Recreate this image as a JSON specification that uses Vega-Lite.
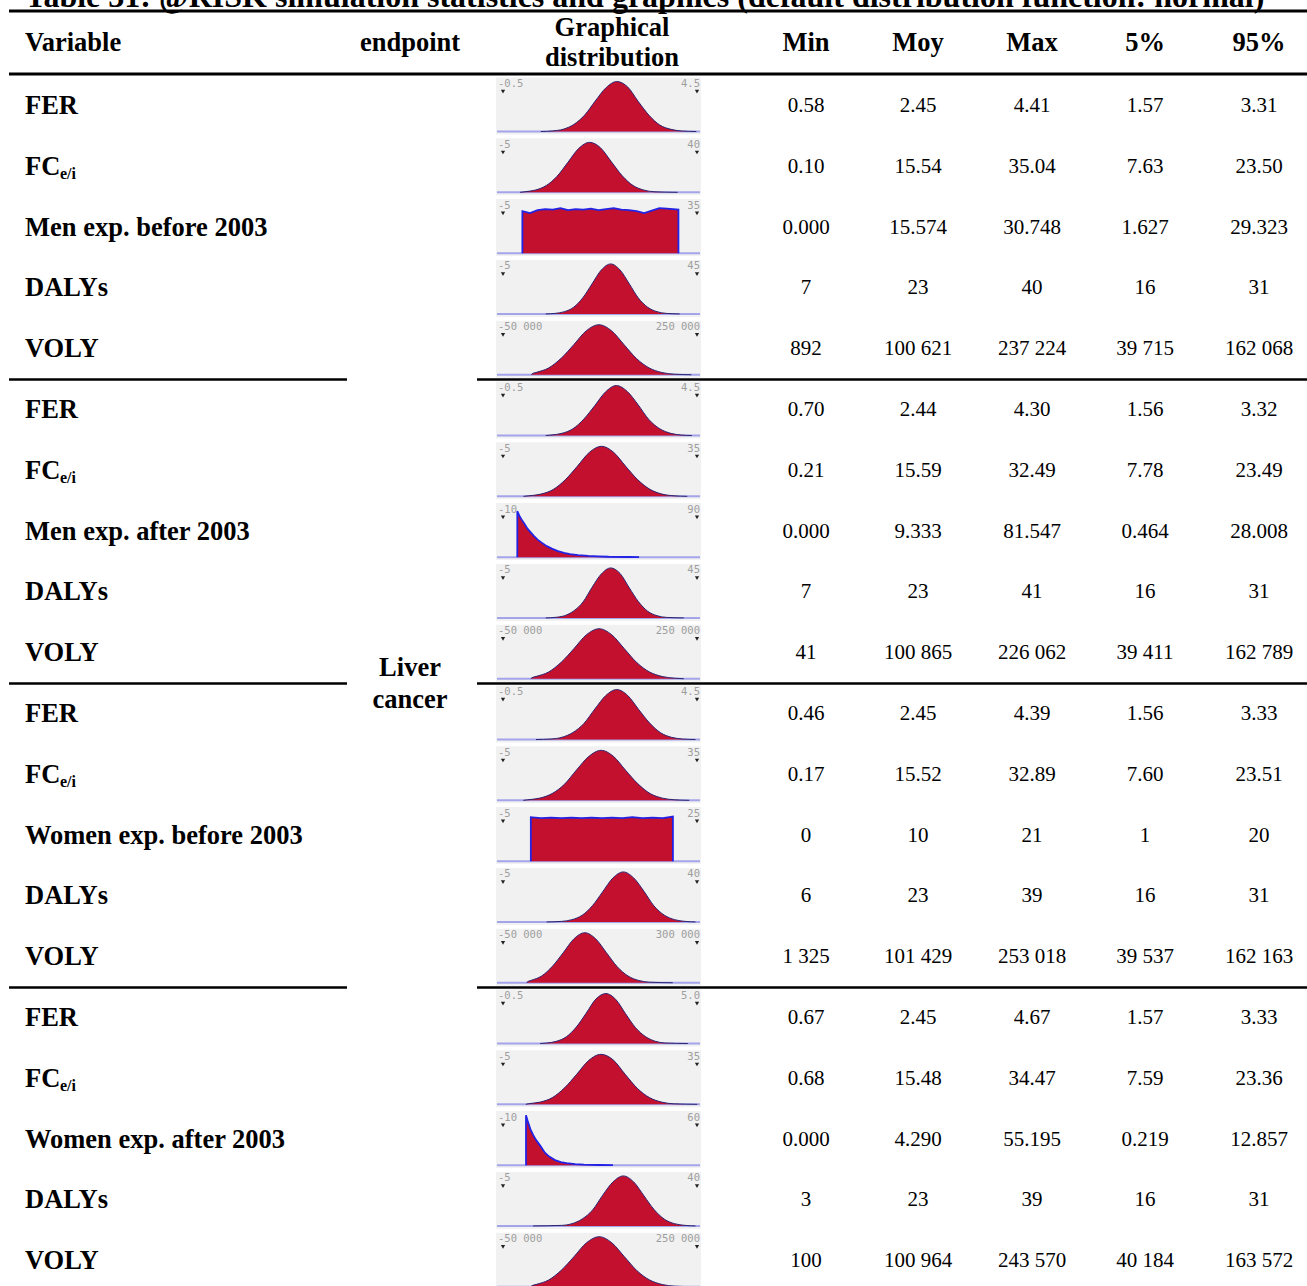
{
"$schema":"https://vega.github.io/schema/vega-lite/v6.json",
"width":1307,"height":1286,"autosize":{"type":"none"},"padding":0,"background":"#ffffff",
"config":{"view":{"stroke":null}},
"datasets":{"rows":[
{"r":1,"v":"FER","sub":"","mn":"0.58","moy":"2.45","mx":"4.41","p5":"1.57","p95":"3.31","lo":-0.5,"hi":4.5,"loL":"-0.5","hiL":"4.5","kind":"normal","xs":[0.58,0.86,1.13,1.39,1.66,1.92,2.19,2.45,2.72,2.98,3.25,3.51,3.78,4.04,4.41],"hs":[0,0.012,0.046,0.14,0.33,0.61,0.88,1.0,0.89,0.6,0.32,0.13,0.045,0.012,0]},
{"r":2,"v":"FC","sub":"e/i","mn":"0.10","moy":"15.54","mx":"35.04","p5":"7.63","p95":"23.50","lo":-5,"hi":40,"loL":"-5","hiL":"40","kind":"normal","xs":[0.10,1.08,3.49,5.90,8.31,10.72,13.13,15.54,17.95,20.36,22.77,25.18,27.59,30.0,35.04],"hs":[0,0.011,0.045,0.135,0.32,0.6,0.88,1.0,0.89,0.61,0.33,0.135,0.044,0.011,0]},
{"r":3,"v":"Men exp. before 2003","sub":"","mn":"0.000","moy":"15.574","mx":"30.748","p5":"1.627","p95":"29.323","lo":-5,"hi":35,"loL":"-5","hiL":"35","kind":"uniform","xs":[0,0,1.5,3,4.5,6,7.5,9,10.5,12,13.5,15,16.5,18,19.5,21,22.5,24,25.5,27,28.5,30.75,30.75],"hs":[0,0.84,0.8,0.86,0.88,0.87,0.9,0.86,0.88,0.87,0.89,0.86,0.88,0.9,0.87,0.86,0.84,0.8,0.85,0.9,0.89,0.87,0]},
{"r":4,"v":"DALYs","sub":"","mn":"7","moy":"23","mx":"40","p5":"16","p95":"31","lo":-5,"hi":45,"loL":"-5","hiL":"45","kind":"normal","xs":[7,9.3,11.6,13.9,16.2,18.4,20.7,23,25.3,27.6,29.8,32.1,34.4,36.7,40],"hs":[0,0.011,0.045,0.135,0.33,0.6,0.88,1.0,0.88,0.6,0.32,0.135,0.045,0.011,0]},
{"r":5,"v":"VOLY","sub":"","mn":"892","moy":"100 621","mx":"237 224","p5":"39 715","p95":"162 068","lo":-50000,"hi":250000,"loL":"-50 000","hiL":"250 000","kind":"normal","xs":[892,2000,7646,26241,44836,63431,82026,100621,119216,137811,156406,175001,193596,212191,237224],"hs":[0,0.02,0.045,0.135,0.33,0.6,0.88,1.0,0.88,0.6,0.32,0.135,0.045,0.011,0]},
{"r":6,"v":"FER","sub":"","mn":"0.70","moy":"2.44","mx":"4.30","p5":"1.56","p95":"3.32","lo":-0.5,"hi":4.5,"loL":"-0.5","hiL":"4.5","kind":"normal","xs":[0.70,0.83,1.10,1.37,1.64,1.91,2.17,2.44,2.71,2.98,3.24,3.51,3.78,4.05,4.30],"hs":[0,0.01,0.044,0.135,0.33,0.6,0.87,1.0,0.88,0.61,0.32,0.135,0.044,0.01,0]},
{"r":7,"v":"FC","sub":"e/i","mn":"0.21","moy":"15.59","mx":"32.49","p5":"7.78","p95":"23.49","lo":-5,"hi":35,"loL":"-5","hiL":"35","kind":"normal","xs":[0.21,1.28,3.67,6.05,8.44,10.82,13.21,15.59,17.98,20.36,22.75,25.13,27.52,29.9,32.49],"hs":[0,0.011,0.045,0.135,0.33,0.6,0.88,1.0,0.88,0.6,0.33,0.14,0.045,0.011,0]},
{"r":8,"v":"Men exp. after 2003","sub":"","mn":"0.000","moy":"9.333","mx":"81.547","p5":"0.464","p95":"28.008","lo":-10,"hi":90,"loL":"-10","hiL":"90","kind":"expo","xs":[0,0,1,2,3.5,5,6.5,8,10,12,14.5,17,20,23,26,30,35,40,45,55,60],"hs":[0,0.92,0.83,0.76,0.67,0.57,0.5,0.43,0.35,0.29,0.22,0.17,0.12,0.085,0.06,0.04,0.025,0.015,0.008,0.003,0]},
{"r":9,"v":"DALYs","sub":"","mn":"7","moy":"23","mx":"41","p5":"16","p95":"31","lo":-5,"hi":45,"loL":"-5","hiL":"45","kind":"normal","xs":[7,9.3,11.6,13.9,16.2,18.4,20.7,23,25.3,27.6,29.8,32.1,34.4,36.7,41],"hs":[0,0.011,0.044,0.14,0.32,0.61,0.88,1.0,0.89,0.6,0.33,0.135,0.045,0.011,0]},
{"r":10,"v":"VOLY","sub":"","mn":"41","moy":"100 865","mx":"226 062","p5":"39 411","p95":"162 789","lo":-50000,"hi":250000,"loL":"-50 000","hiL":"250 000","kind":"normal","xs":[41,1500,7600,26300,44900,63600,82200,100865,119500,138200,156800,175500,194100,212800,226062],"hs":[0,0.02,0.045,0.135,0.33,0.6,0.88,1.0,0.88,0.6,0.32,0.135,0.045,0.011,0]},
{"r":11,"v":"FER","sub":"","mn":"0.46","moy":"2.45","mx":"4.39","p5":"1.56","p95":"3.33","lo":-0.5,"hi":4.5,"loL":"-0.5","hiL":"4.5","kind":"normal","xs":[0.46,0.83,1.10,1.37,1.64,1.91,2.18,2.45,2.72,2.99,3.26,3.53,3.80,4.07,4.39],"hs":[0,0.011,0.045,0.14,0.32,0.61,0.88,1.0,0.88,0.6,0.33,0.135,0.044,0.011,0]},
{"r":12,"v":"FC","sub":"e/i","mn":"0.17","moy":"15.52","mx":"32.89","p5":"7.60","p95":"23.51","lo":-5,"hi":35,"loL":"-5","hiL":"35","kind":"normal","xs":[0.17,1.03,3.45,5.86,8.28,10.69,13.11,15.52,17.94,20.35,22.77,25.18,27.6,30.01,32.89],"hs":[0,0.011,0.045,0.135,0.32,0.61,0.88,1.0,0.88,0.6,0.33,0.135,0.044,0.011,0]},
{"r":13,"v":"Women exp. before 2003","sub":"","mn":"0","moy":"10","mx":"21","p5":"1","p95":"20","lo":-5,"hi":25,"loL":"-5","hiL":"25","kind":"uniform","xs":[0,0,1.5,3,4.5,6,7.5,9,10.5,12,13.5,15,16.5,18,19.5,21,21],"hs":[0,0.88,0.86,0.87,0.86,0.87,0.86,0.87,0.86,0.87,0.86,0.88,0.86,0.87,0.86,0.89,0]},
{"r":14,"v":"DALYs","sub":"","mn":"6","moy":"23","mx":"39","p5":"16","p95":"31","lo":-5,"hi":40,"loL":"-5","hiL":"40","kind":"normal","xs":[6,9.3,11.6,13.9,16.2,18.4,20.7,23,25.3,27.6,29.8,32.1,34.4,36.7,39],"hs":[0,0.011,0.045,0.135,0.33,0.6,0.88,1.0,0.88,0.61,0.32,0.135,0.045,0.011,0]},
{"r":15,"v":"VOLY","sub":"","mn":"1 325","moy":"101 429","mx":"253 018","p5":"39 537","p95":"162 163","lo":-50000,"hi":300000,"loL":"-50 000","hiL":"300 000","kind":"normal","xs":[1325,2500,8300,27000,45600,64200,82800,101429,120000,138700,157300,175900,194500,213100,253018],"hs":[0,0.02,0.045,0.135,0.33,0.6,0.88,1.0,0.88,0.6,0.32,0.135,0.045,0.011,0]},
{"r":16,"v":"FER","sub":"","mn":"0.67","moy":"2.45","mx":"4.67","p5":"1.57","p95":"3.33","lo":-0.5,"hi":5.0,"loL":"-0.5","hiL":"5.0","kind":"normal","xs":[0.67,0.85,1.11,1.38,1.65,1.91,2.18,2.45,2.72,2.98,3.25,3.52,3.79,4.05,4.67],"hs":[0,0.011,0.045,0.135,0.33,0.6,0.89,1.0,0.88,0.6,0.32,0.14,0.045,0.011,0]},
{"r":17,"v":"FC","sub":"e/i","mn":"0.68","moy":"15.48","mx":"34.47","p5":"7.59","p95":"23.36","lo":-5,"hi":35,"loL":"-5","hiL":"35","kind":"normal","xs":[0.68,1.14,3.53,5.92,8.31,10.7,13.09,15.48,17.87,20.26,22.65,25.04,27.43,29.82,34.47],"hs":[0,0.011,0.045,0.135,0.33,0.6,0.88,1.0,0.89,0.6,0.32,0.135,0.045,0.011,0]},
{"r":18,"v":"Women exp. after 2003","sub":"","mn":"0.000","moy":"4.290","mx":"55.195","p5":"0.219","p95":"12.857","lo":-10,"hi":60,"loL":"-10","hiL":"60","kind":"expo","xs":[0,0,0.7,1.5,2.5,3.5,5,6.5,8,10,12,14,17,20,25,30],"hs":[0,1.0,0.86,0.72,0.6,0.5,0.38,0.25,0.17,0.1,0.06,0.04,0.02,0.01,0.003,0]},
{"r":19,"v":"DALYs","sub":"","mn":"3","moy":"23","mx":"39","p5":"16","p95":"31","lo":-5,"hi":40,"loL":"-5","hiL":"40","kind":"normal","xs":[3,9.3,11.6,13.9,16.2,18.4,20.7,23,25.3,27.6,29.8,32.1,34.4,36.7,39],"hs":[0,0.011,0.045,0.14,0.32,0.61,0.88,1.0,0.88,0.6,0.33,0.135,0.044,0.011,0]},
{"r":20,"v":"VOLY","sub":"","mn":"100","moy":"100 964","mx":"243 570","p5":"40 184","p95":"163 572","lo":-50000,"hi":250000,"loL":"-50 000","hiL":"250 000","kind":"normal","xs":[100,1500,7700,26400,45000,63700,82300,100964,119600,138300,156900,175600,194200,212900,243570],"hs":[0,0.02,0.045,0.135,0.33,0.6,0.88,1.0,0.88,0.6,0.32,0.135,0.045,0.011,0]}
]},
"layer":[
{"data":{"name":"rows"},"transform":[{"calculate":"datum.r-0.469","as":"y0"},{"calculate":"datum.r+0.469","as":"y1"}],
 "mark":{"type":"rect","fill":"#f1f1f1","clip":true},
 "encoding":{"x":{"datum":496,"type":"quantitative","scale":{"domain":[0,1307],"nice":false,"zero":false},"axis":null},"x2":{"datum":701},
  "y":{"field":"y0","type":"quantitative","scale":{"domain":[-0.7434,20.4079],"reverse":true,"nice":false,"zero":false},"axis":null},"y2":{"field":"y1"}}},
{"data":{"name":"rows"},"transform":[{"calculate":"datum.r+0.42","as":"b"}],
 "mark":{"type":"rule","stroke":"#a4a4ea","strokeWidth":2,"clip":true},
 "encoding":{"x":{"datum":497,"type":"quantitative","scale":{"domain":[0,1307],"nice":false,"zero":false},"axis":null},"x2":{"datum":700},
  "y":{"field":"b","type":"quantitative","scale":{"domain":[-0.7434,20.4079],"reverse":true,"nice":false,"zero":false},"axis":null}}},
{"data":{"name":"rows"},"transform":[{"flatten":["xs","hs"]},{"filter":"datum.kind=='normal'"},{"calculate":"497+(datum.xs-datum.lo)/(datum.hi-datum.lo)*203","as":"hx"},{"calculate":"datum.r+0.42-datum.hs*0.8224","as":"top"},{"calculate":"datum.r+0.42","as":"base"}],
 "mark":{"type":"area","interpolate":"monotone","fill":"#c2102e","clip":true},
 "encoding":{"x":{"field":"hx","type":"quantitative","scale":{"domain":[0,1307],"nice":false,"zero":false},"axis":null},
  "y":{"field":"top","type":"quantitative","scale":{"domain":[-0.7434,20.4079],"reverse":true,"nice":false,"zero":false},"axis":null},"y2":{"field":"base"},"detail":{"field":"r"}}},
{"data":{"name":"rows"},"transform":[{"flatten":["xs","hs"]},{"filter":"datum.kind=='normal'"},{"calculate":"497+(datum.xs-datum.lo)/(datum.hi-datum.lo)*203","as":"hx"},{"calculate":"datum.r+0.42-datum.hs*0.8224","as":"top"}],
 "mark":{"type":"line","interpolate":"monotone","stroke":"#2c2470","strokeWidth":1,"clip":true},
 "encoding":{"x":{"field":"hx","type":"quantitative","scale":{"domain":[0,1307],"nice":false,"zero":false},"axis":null},
  "y":{"field":"top","type":"quantitative","scale":{"domain":[-0.7434,20.4079],"reverse":true,"nice":false,"zero":false},"axis":null},"detail":{"field":"r"}}},
{"data":{"name":"rows"},"transform":[{"flatten":["xs","hs"]},{"filter":"datum.kind!='normal'"},{"calculate":"497+(datum.xs-datum.lo)/(datum.hi-datum.lo)*203","as":"hx"},{"calculate":"datum.r+0.42-datum.hs*0.8224","as":"top"},{"calculate":"datum.r+0.42","as":"base"}],
 "mark":{"type":"area","fill":"#c2102e","clip":true},
 "encoding":{"x":{"field":"hx","type":"quantitative","scale":{"domain":[0,1307],"nice":false,"zero":false},"axis":null},
  "y":{"field":"top","type":"quantitative","scale":{"domain":[-0.7434,20.4079],"reverse":true,"nice":false,"zero":false},"axis":null},"y2":{"field":"base"},"detail":{"field":"r"}}},
{"data":{"name":"rows"},"transform":[{"flatten":["xs","hs"]},{"filter":"datum.kind!='normal'"},{"calculate":"497+(datum.xs-datum.lo)/(datum.hi-datum.lo)*203","as":"hx"},{"calculate":"datum.r+0.42-datum.hs*0.8224","as":"top"}],
 "mark":{"type":"line","stroke":"#2323e6","strokeWidth":1.8,"clip":true},
 "encoding":{"x":{"field":"hx","type":"quantitative","scale":{"domain":[0,1307],"nice":false,"zero":false},"axis":null},
  "y":{"field":"top","type":"quantitative","scale":{"domain":[-0.7434,20.4079],"reverse":true,"nice":false,"zero":false},"axis":null},"detail":{"field":"r"}}},
{"data":{"name":"rows"},"transform":[{"calculate":"datum.r-0.362","as":"ly"}],
 "mark":{"type":"text","align":"left","baseline":"middle","font":"DejaVu Sans Mono","fontSize":10.5,"fill":"#9e9e9e"},
 "encoding":{"x":{"datum":498,"type":"quantitative","scale":{"domain":[0,1307],"nice":false,"zero":false},"axis":null},
  "y":{"field":"ly","type":"quantitative","scale":{"domain":[-0.7434,20.4079],"reverse":true,"nice":false,"zero":false},"axis":null},"text":{"field":"loL"}}},
{"data":{"name":"rows"},"transform":[{"calculate":"datum.r-0.362","as":"ly"}],
 "mark":{"type":"text","align":"right","baseline":"middle","font":"DejaVu Sans Mono","fontSize":10.5,"fill":"#9e9e9e"},
 "encoding":{"x":{"datum":700,"type":"quantitative","scale":{"domain":[0,1307],"nice":false,"zero":false},"axis":null},
  "y":{"field":"ly","type":"quantitative","scale":{"domain":[-0.7434,20.4079],"reverse":true,"nice":false,"zero":false},"axis":null},"text":{"field":"hiL"}}},
{"data":{"name":"rows"},"transform":[{"calculate":"datum.r-0.235","as":"ty"}],
 "mark":{"type":"point","shape":"triangle-down","filled":true,"fill":"#222222","size":18,"opacity":1},
 "encoding":{"x":{"datum":503,"type":"quantitative","scale":{"domain":[0,1307],"nice":false,"zero":false},"axis":null},
  "y":{"field":"ty","type":"quantitative","scale":{"domain":[-0.7434,20.4079],"reverse":true,"nice":false,"zero":false},"axis":null}}},
{"data":{"name":"rows"},"transform":[{"calculate":"datum.r-0.235","as":"ty"}],
 "mark":{"type":"point","shape":"triangle-down","filled":true,"fill":"#222222","size":18,"opacity":1},
 "encoding":{"x":{"datum":697,"type":"quantitative","scale":{"domain":[0,1307],"nice":false,"zero":false},"axis":null},
  "y":{"field":"ty","type":"quantitative","scale":{"domain":[-0.7434,20.4079],"reverse":true,"nice":false,"zero":false},"axis":null}}},
{"data":{"name":"rows"},
 "mark":{"type":"text","align":"left","baseline":"middle","font":"Liberation Serif","fontSize":26.5,"fontWeight":"bold","fill":"#000000"},
 "encoding":{"x":{"datum":25,"type":"quantitative","scale":{"domain":[0,1307],"nice":false,"zero":false},"axis":null},
  "y":{"field":"r","type":"quantitative","scale":{"domain":[-0.7434,20.4079],"reverse":true,"nice":false,"zero":false},"axis":null},"text":{"field":"v"}}},
{"data":{"name":"rows"},"transform":[{"filter":"datum.sub!=''"}],
 "mark":{"type":"text","align":"left","baseline":"middle","font":"Liberation Serif","fontSize":16,"fontWeight":"bold","fill":"#000000","dx":35,"dy":7},
 "encoding":{"x":{"datum":25,"type":"quantitative","scale":{"domain":[0,1307],"nice":false,"zero":false},"axis":null},
  "y":{"field":"r","type":"quantitative","scale":{"domain":[-0.7434,20.4079],"reverse":true,"nice":false,"zero":false},"axis":null},"text":{"field":"sub"}}},
{"data":{"name":"rows"},
 "mark":{"type":"text","align":"center","baseline":"middle","font":"Liberation Serif","fontSize":21,"fill":"#000000"},
 "encoding":{"x":{"datum":806,"type":"quantitative","scale":{"domain":[0,1307],"nice":false,"zero":false},"axis":null},
  "y":{"field":"r","type":"quantitative","scale":{"domain":[-0.7434,20.4079],"reverse":true,"nice":false,"zero":false},"axis":null},"text":{"field":"mn"}}},
{"data":{"name":"rows"},
 "mark":{"type":"text","align":"center","baseline":"middle","font":"Liberation Serif","fontSize":21,"fill":"#000000"},
 "encoding":{"x":{"datum":918,"type":"quantitative","scale":{"domain":[0,1307],"nice":false,"zero":false},"axis":null},
  "y":{"field":"r","type":"quantitative","scale":{"domain":[-0.7434,20.4079],"reverse":true,"nice":false,"zero":false},"axis":null},"text":{"field":"moy"}}},
{"data":{"name":"rows"},
 "mark":{"type":"text","align":"center","baseline":"middle","font":"Liberation Serif","fontSize":21,"fill":"#000000"},
 "encoding":{"x":{"datum":1032,"type":"quantitative","scale":{"domain":[0,1307],"nice":false,"zero":false},"axis":null},
  "y":{"field":"r","type":"quantitative","scale":{"domain":[-0.7434,20.4079],"reverse":true,"nice":false,"zero":false},"axis":null},"text":{"field":"mx"}}},
{"data":{"name":"rows"},
 "mark":{"type":"text","align":"center","baseline":"middle","font":"Liberation Serif","fontSize":21,"fill":"#000000"},
 "encoding":{"x":{"datum":1145,"type":"quantitative","scale":{"domain":[0,1307],"nice":false,"zero":false},"axis":null},
  "y":{"field":"r","type":"quantitative","scale":{"domain":[-0.7434,20.4079],"reverse":true,"nice":false,"zero":false},"axis":null},"text":{"field":"p5"}}},
{"data":{"name":"rows"},
 "mark":{"type":"text","align":"center","baseline":"middle","font":"Liberation Serif","fontSize":21,"fill":"#000000"},
 "encoding":{"x":{"datum":1259,"type":"quantitative","scale":{"domain":[0,1307],"nice":false,"zero":false},"axis":null},
  "y":{"field":"r","type":"quantitative","scale":{"domain":[-0.7434,20.4079],"reverse":true,"nice":false,"zero":false},"axis":null},"text":{"field":"p95"}}},
{"data":{"values":[{}]},
 "mark":{"type":"text","align":"left","baseline":"alphabetic","font":"Liberation Serif","fontSize":32,"fontWeight":"bold","fill":"#000000","clip":true,"text":"Table 31: @RISK simulation statistics and graphics (default distribution function: normal)"},
 "encoding":{"x":{"datum":25,"type":"quantitative","scale":{"domain":[0,1307],"nice":false,"zero":false},"axis":null},
  "y":{"datum":-0.6283,"type":"quantitative","scale":{"domain":[-0.7434,20.4079],"reverse":true,"nice":false,"zero":false},"axis":null}}},
{"data":{"values":[{}]},
 "mark":{"type":"text","align":"left","baseline":"middle","font":"Liberation Serif","fontSize":26.5,"fontWeight":"bold","fill":"#000000","text":"Variable"},
 "encoding":{"x":{"datum":25,"type":"quantitative","scale":{"domain":[0,1307],"nice":false,"zero":false},"axis":null},
  "y":{"datum":-0.0362,"type":"quantitative","scale":{"domain":[-0.7434,20.4079],"reverse":true,"nice":false,"zero":false},"axis":null}}},
{"data":{"values":[{}]},
 "mark":{"type":"text","align":"center","baseline":"middle","font":"Liberation Serif","fontSize":26.5,"fontWeight":"bold","fill":"#000000","text":"endpoint"},
 "encoding":{"x":{"datum":410,"type":"quantitative","scale":{"domain":[0,1307],"nice":false,"zero":false},"axis":null},
  "y":{"datum":-0.0362,"type":"quantitative","scale":{"domain":[-0.7434,20.4079],"reverse":true,"nice":false,"zero":false},"axis":null}}},
{"data":{"values":[{}]},
 "mark":{"type":"text","align":"center","baseline":"middle","font":"Liberation Serif","fontSize":26.5,"fontWeight":"bold","fill":"#000000","lineHeight":30,"text":["Graphical","distribution"]},
 "encoding":{"x":{"datum":612,"type":"quantitative","scale":{"domain":[0,1307],"nice":false,"zero":false},"axis":null},
  "y":{"datum":-0.2829,"type":"quantitative","scale":{"domain":[-0.7434,20.4079],"reverse":true,"nice":false,"zero":false},"axis":null}}},
{"data":{"values":[{}]},
 "mark":{"type":"text","align":"center","baseline":"middle","font":"Liberation Serif","fontSize":26.5,"fontWeight":"bold","fill":"#000000","text":"Min"},
 "encoding":{"x":{"datum":806,"type":"quantitative","scale":{"domain":[0,1307],"nice":false,"zero":false},"axis":null},
  "y":{"datum":-0.0362,"type":"quantitative","scale":{"domain":[-0.7434,20.4079],"reverse":true,"nice":false,"zero":false},"axis":null}}},
{"data":{"values":[{}]},
 "mark":{"type":"text","align":"center","baseline":"middle","font":"Liberation Serif","fontSize":26.5,"fontWeight":"bold","fill":"#000000","text":"Moy"},
 "encoding":{"x":{"datum":918,"type":"quantitative","scale":{"domain":[0,1307],"nice":false,"zero":false},"axis":null},
  "y":{"datum":-0.0362,"type":"quantitative","scale":{"domain":[-0.7434,20.4079],"reverse":true,"nice":false,"zero":false},"axis":null}}},
{"data":{"values":[{}]},
 "mark":{"type":"text","align":"center","baseline":"middle","font":"Liberation Serif","fontSize":26.5,"fontWeight":"bold","fill":"#000000","text":"Max"},
 "encoding":{"x":{"datum":1032,"type":"quantitative","scale":{"domain":[0,1307],"nice":false,"zero":false},"axis":null},
  "y":{"datum":-0.0362,"type":"quantitative","scale":{"domain":[-0.7434,20.4079],"reverse":true,"nice":false,"zero":false},"axis":null}}},
{"data":{"values":[{}]},
 "mark":{"type":"text","align":"center","baseline":"middle","font":"Liberation Serif","fontSize":26.5,"fontWeight":"bold","fill":"#000000","text":"5%"},
 "encoding":{"x":{"datum":1145,"type":"quantitative","scale":{"domain":[0,1307],"nice":false,"zero":false},"axis":null},
  "y":{"datum":-0.0362,"type":"quantitative","scale":{"domain":[-0.7434,20.4079],"reverse":true,"nice":false,"zero":false},"axis":null}}},
{"data":{"values":[{}]},
 "mark":{"type":"text","align":"center","baseline":"middle","font":"Liberation Serif","fontSize":26.5,"fontWeight":"bold","fill":"#000000","text":"95%"},
 "encoding":{"x":{"datum":1259,"type":"quantitative","scale":{"domain":[0,1307],"nice":false,"zero":false},"axis":null},
  "y":{"datum":-0.0362,"type":"quantitative","scale":{"domain":[-0.7434,20.4079],"reverse":true,"nice":false,"zero":false},"axis":null}}},
{"data":{"values":[{}]},
 "mark":{"type":"text","align":"center","baseline":"middle","font":"Liberation Serif","fontSize":26.5,"fontWeight":"bold","fill":"#000000","lineHeight":32,"text":["Liver","cancer"]},
 "encoding":{"x":{"datum":410,"type":"quantitative","scale":{"domain":[0,1307],"nice":false,"zero":false},"axis":null},
  "y":{"datum":10.2434,"type":"quantitative","scale":{"domain":[-0.7434,20.4079],"reverse":true,"nice":false,"zero":false},"axis":null}}},
{"data":{"values":[{"b":-0.5625},{"b":0.4737}]},
 "mark":{"type":"rule","stroke":"#000000","strokeWidth":3},
 "encoding":{"x":{"datum":9,"type":"quantitative","scale":{"domain":[0,1307],"nice":false,"zero":false},"axis":null},"x2":{"datum":1307},
  "y":{"field":"b","type":"quantitative","scale":{"domain":[-0.7434,20.4079],"reverse":true,"nice":false,"zero":false},"axis":null}}},
{"data":{"values":[{"b":5.5},{"b":10.5},{"b":15.5}]},
 "mark":{"type":"rule","stroke":"#000000","strokeWidth":2.5},
 "encoding":{"x":{"datum":9,"type":"quantitative","scale":{"domain":[0,1307],"nice":false,"zero":false},"axis":null},"x2":{"datum":347},
  "y":{"field":"b","type":"quantitative","scale":{"domain":[-0.7434,20.4079],"reverse":true,"nice":false,"zero":false},"axis":null}}},
{"data":{"values":[{"b":5.5},{"b":10.5},{"b":15.5}]},
 "mark":{"type":"rule","stroke":"#000000","strokeWidth":2.5},
 "encoding":{"x":{"datum":477,"type":"quantitative","scale":{"domain":[0,1307],"nice":false,"zero":false},"axis":null},"x2":{"datum":1307},
  "y":{"field":"b","type":"quantitative","scale":{"domain":[-0.7434,20.4079],"reverse":true,"nice":false,"zero":false},"axis":null}}}
]
}
